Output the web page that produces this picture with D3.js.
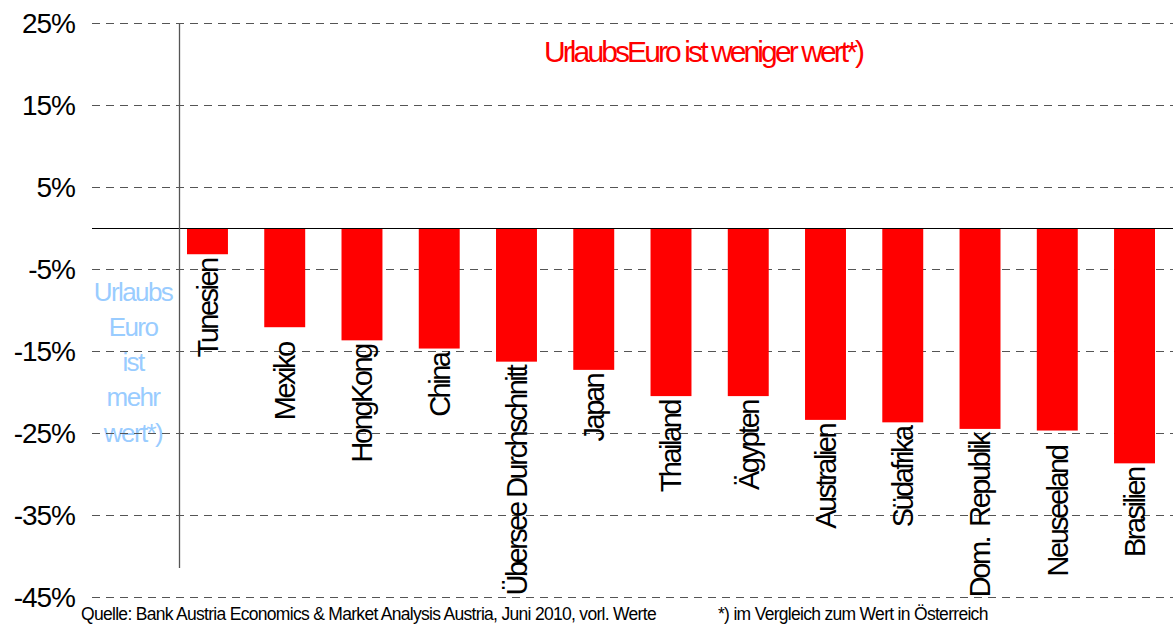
<!DOCTYPE html>
<html>
<head>
<meta charset="utf-8">
<script src="https://cdn.jsdelivr.net/npm/d3@7"></script>
<style>
	body { margin: 0; background: #fff; }
	svg { display: block; font-family: "Liberation Sans", Arial, sans-serif; }
</style>
</head>
<body>
<div id="chart"></div>
<script>
/*Data*/
const categories = ['Tunesien', 'Mexiko  ', 'HongKong', 'China', 'Übersee Durchschnitt', 'Japan', 'Thailand',
	'Ägypten', 'Australien', 'Südafrika', 'Dom.  Republik', 'Neuseeland  ', 'Brasilien'];
const values = [-3.2, -12.1, -13.7, -14.7, -16.3, -17.3, -20.5, -20.5, -23.4, -23.7, -24.5, -24.7, -28.7];
const yTicks = [25, 15, 5, -5, -15, -25, -35, -45];
const titleText = 'UrlaubsEuro ist weniger wert*)';
const sideText = ['Urlaubs', 'Euro', 'ist', 'mehr', 'wert*)'];
const sourceText = 'Quelle: Bank Austria Economics & Market Analysis Austria, Juni 2010, vorl. Werte';
const noteText = '*) im Vergleich zum Wert in Österreich';
/////////////////////////////////////////////////////////////////////////////

//STYLING
const width = 1176, height = 627;
const gridLeft = 92, gridRight = 1173;
const red = '#ff0000', blue = '#99ccff';

const svg = d3.select('#chart').append('svg')
	.attr('width', width)
	.attr('height', height);

const y = d3.scaleLinear().domain([-45, 25]).range([597, 23]);
const x = d3.scaleBand()
	.domain(categories)
	.range([169, 1173])
	.paddingInner(0.47)
	.paddingOuter(0.233);

//blue note on the left, under the grid
const side = svg.append('text')
	.attr('fill', blue)
	.attr('font-size', 26)
	.attr('letter-spacing', '-1.6px')
	.attr('text-anchor', 'middle');
side.selectAll('tspan')
	.data(sideText)
	.join('tspan')
	.attr('x', 133)
	.attr('y', (d, i) => 300.5 + i * 35.3)
	.text(d => d);

//dashed grid
svg.append('g')
	.selectAll('line')
	.data(yTicks)
	.join('line')
	.attr('x1', gridLeft)
	.attr('x2', gridRight)
	.attr('y1', d => Math.round(y(d)) + 0.5)
	.attr('y2', d => Math.round(y(d)) + 0.5)
	.attr('stroke', '#555')
	.attr('stroke-dasharray', '8,6');

//y labels
const yAxis = svg.append('g')
	.attr('transform', 'translate(75,0)')
	.call(d3.axisLeft(y).tickValues(yTicks).tickSize(0).tickPadding(0).tickFormat(d => d + '%'));
yAxis.select('.domain').remove();
yAxis.selectAll('text')
	.attr('font-size', 28)
	.attr('font-family', '"Liberation Sans", Arial, sans-serif')
	.attr('letter-spacing', '-1px')
	.attr('fill', '#000')
	.attr('dy', '0.34em');

//bars
svg.append('g')
	.selectAll('rect')
	.data(values)
	.join('rect')
	.attr('x', (d, i) => x(categories[i]))
	.attr('width', x.bandwidth())
	.attr('y', d => y(Math.max(0, d)))
	.attr('height', d => Math.abs(y(d) - y(0)))
	.attr('fill', red);

//zero line and vertical axis
svg.append('line')
	.attr('x1', gridLeft).attr('x2', gridRight)
	.attr('y1', Math.round(y(0)) + 0.5).attr('y2', Math.round(y(0)) + 0.5)
	.attr('stroke', '#000');
svg.append('line')
	.attr('x1', 179.5).attr('x2', 179.5)
	.attr('y1', y(25)).attr('y2', 568)
	.attr('stroke', '#555')
	.attr('stroke-width', 1.3);

//category labels, rotated under each bar
svg.append('g')
	.selectAll('text')
	.data(values)
	.join('text')
	.attr('transform', (d, i) => `translate(${x(categories[i]) + x.bandwidth() / 2},${y(d) + 5}) rotate(-90)`)
	.attr('text-anchor', 'end')
	.attr('dy', '0.36em')
	.attr('font-size', 29)
	.attr('letter-spacing', '-2.5px')
	.style('white-space', 'pre')
	.text((d, i) => categories[i]);

//title
svg.append('text')
	.attr('x', 544)
	.attr('y', 62)
	.attr('fill', red)
	.attr('font-size', 30)
	.attr('letter-spacing', '-2.9px')
	.text(titleText);

//footer
svg.append('text')
	.attr('x', 81).attr('y', 620)
	.attr('font-size', 17.5)
	.attr('letter-spacing', '-0.7px')
	.text(sourceText);
svg.append('text')
	.attr('x', 718).attr('y', 620)
	.attr('font-size', 17.5)
	.attr('letter-spacing', '-0.7px')
	.text(noteText);
</script>
</body>
</html>
